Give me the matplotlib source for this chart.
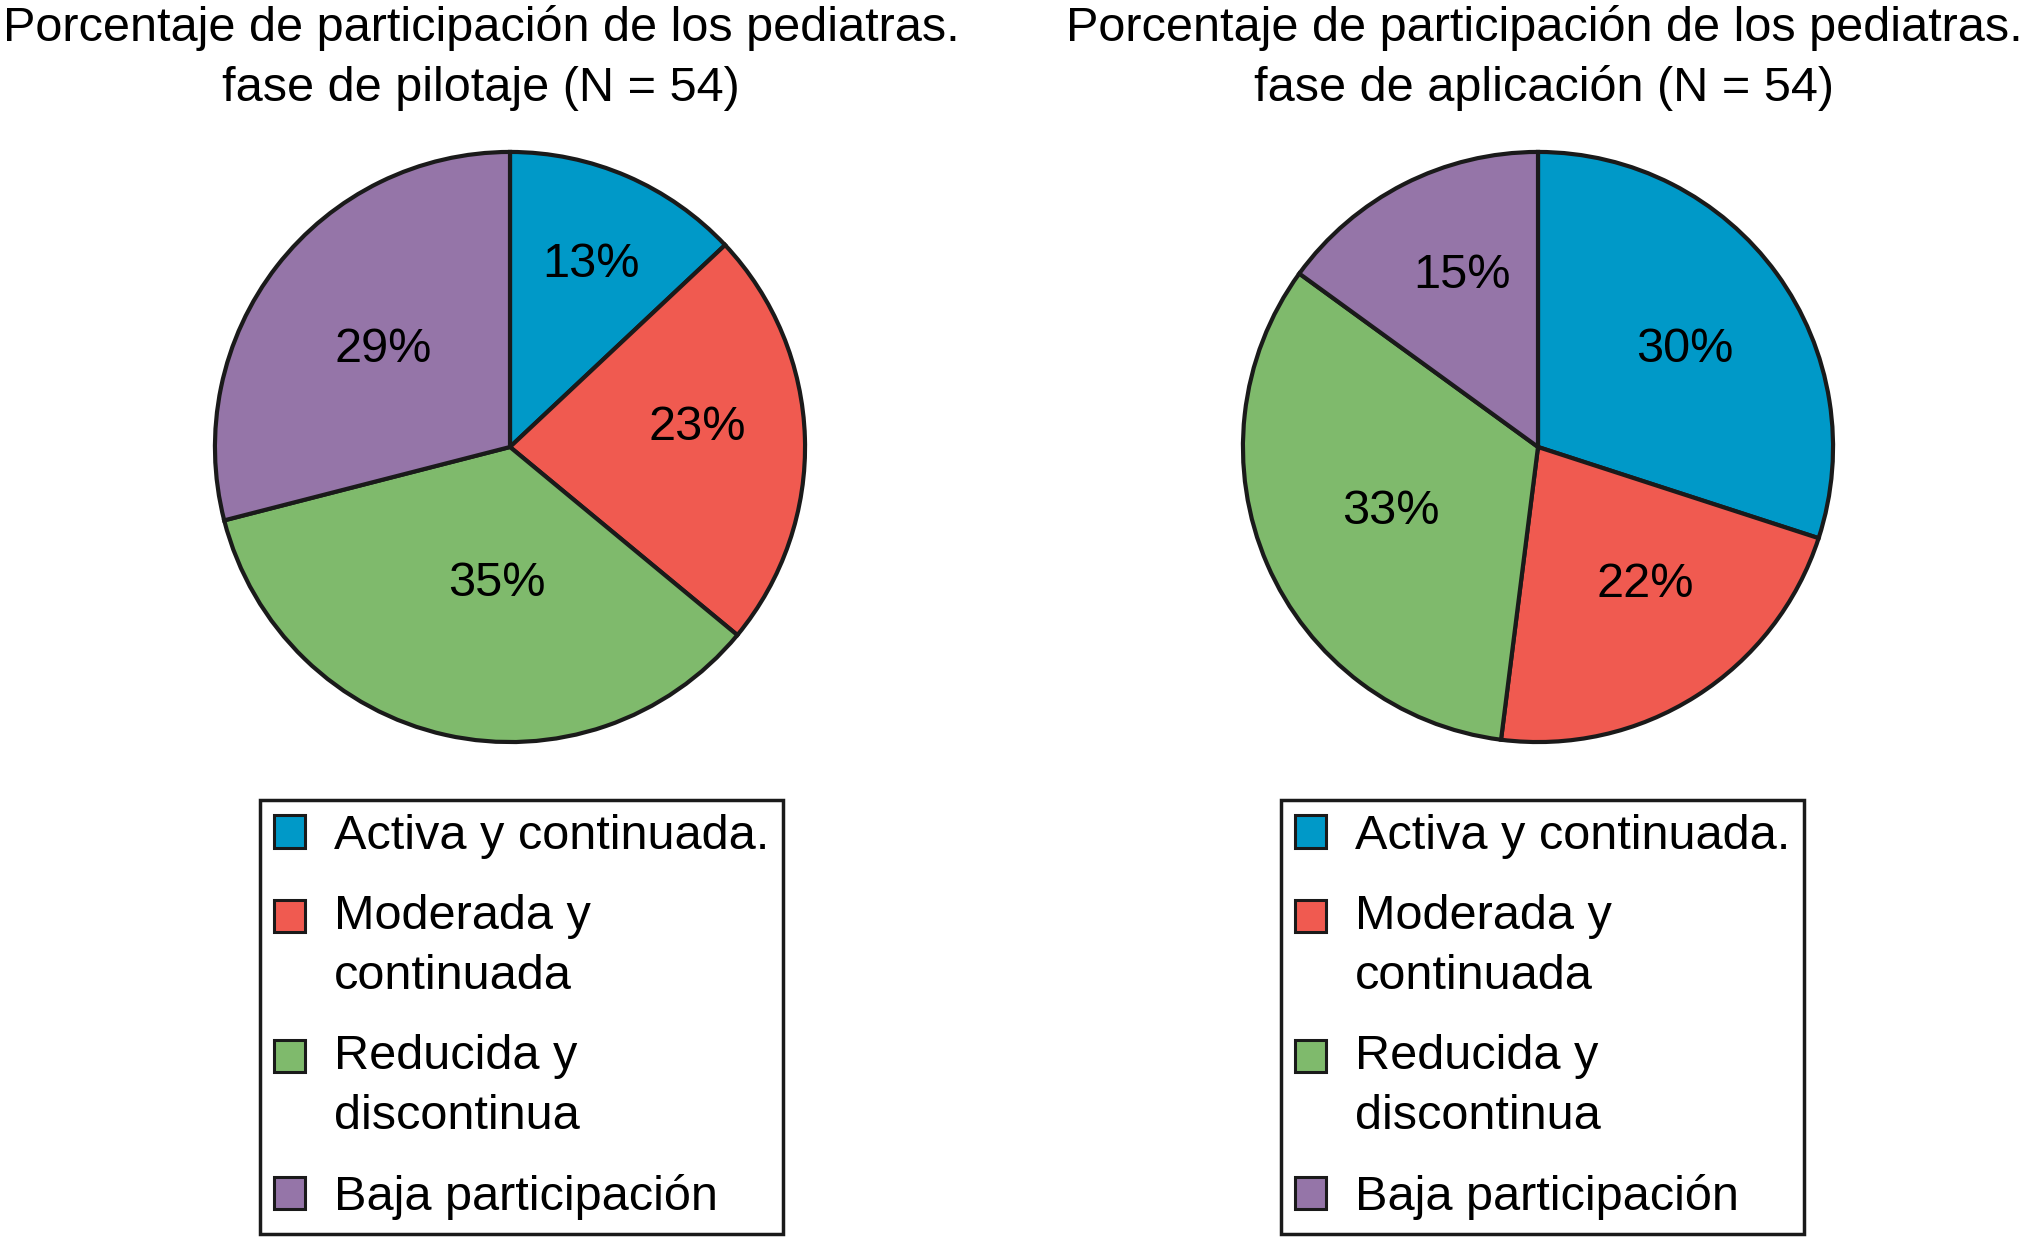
import matplotlib
matplotlib.use("Agg")
import matplotlib.pyplot as plt
from matplotlib.patches import Patch
from matplotlib.legend_handler import HandlerPatch

plt.rcParams['font.family'] = ['Liberation Sans', 'DejaVu Sans']

# Data
categorias = ['Activa y continuada.', 'Moderada y\ncontinuada', 'Reducida y\ndiscontinua',
              'Baja participación']
pilotaje = [13, 23, 35, 29]
aplicacion = [30, 22, 33, 15]
titulos = ['Porcentaje de participación de los pediatras.\nfase de pilotaje (N = 54)',
           'Porcentaje de participación de los pediatras.\nfase de aplicación (N = 54)']
colores = ['#0099C8', '#F05A50', '#7FBA6C', '#9575A8']
borde = '#1a1a1a'

# posicion de cada etiqueta en unidades del radio (solo estilo)
pos_pilotaje = [(0.275, 0.62), (0.635, 0.066), (-0.044, -0.464), (-0.43, 0.332)]
pos_aplicacion = [(0.498, 0.332), (0.362, -0.466), (-0.5, -0.22), (-0.256, 0.582)]

W, H = 2025, 1244
FS = 35
LS_LEG = 1.44
fig = plt.figure(figsize=(W / 100, H / 100), dpi=100)


def dibujar_pie(cx, cy, r, valores, posiciones):
    ax = fig.add_axes([(cx - r) / W, 1 - (cy + r) / H, 2 * r / W, 2 * r / H])
    wedges, _, autotexts = ax.pie(valores, colors=colores, startangle=90, counterclock=False,
                                  autopct='%.0f%%',
                                  wedgeprops=dict(edgecolor=borde, linewidth=3),
                                  textprops=dict(fontsize=FS, color='black'))
    for t, p in zip(autotexts, posiciones):
        t.set_position(p)
    ax.set_xlim(-1.01, 1.01)
    ax.set_ylim(-1.01, 1.01)
    ax.axis('off')
    return ax


dibujar_pie(510, 447, 298, pilotaje, pos_pilotaje)
dibujar_pie(1538, 447, 298, aplicacion, pos_aplicacion)

fig.text(481 / W, 1 - 58 / H, titulos[0], ha='center', va='center', fontsize=FS,
         linespacing=1.41)
fig.text(1544 / W, 1 - 58 / H, titulos[1], ha='center', va='center', fontsize=FS,
         linespacing=1.41)


# handle alineado con la primera linea del texto
class HandlerArriba(HandlerPatch):
    def __init__(self, dy, **kw):
        super().__init__(**kw)
        self.dy = dy

    def create_artists(self, legend, orig_handle, xdescent, ydescent, width, height,
                       fontsize, trans):
        return super().create_artists(legend, orig_handle, xdescent, ydescent - self.dy,
                                      width, height, fontsize, trans)


for x0 in [260, 1281]:
    handles = [Patch(facecolor=c, edgecolor=borde, linewidth=2.2) for c in colores]
    hmap = {}
    for h, lab in zip(handles, categorias):
        n = lab.count('\n')
        hmap[h] = HandlerArriba(n * 0.5 * LS_LEG * 0.89 * FS)
    leg = fig.legend(handles, categorias, loc='upper left', handler_map=hmap,
                     bbox_to_anchor=(x0 / W, 1 - 800 / H), fontsize=FS,
                     frameon=True, fancybox=False, framealpha=1, edgecolor=borde,
                     handlelength=0.64, handleheight=0.64, handletextpad=0.6,
                     labelspacing=0.72, borderpad=0.28, borderaxespad=0)
    for t in leg.get_texts():
        t.set_linespacing(LS_LEG)
    leg.get_frame().set_linewidth(2.5)

fig.savefig('out.png', dpi=100, facecolor='white')
